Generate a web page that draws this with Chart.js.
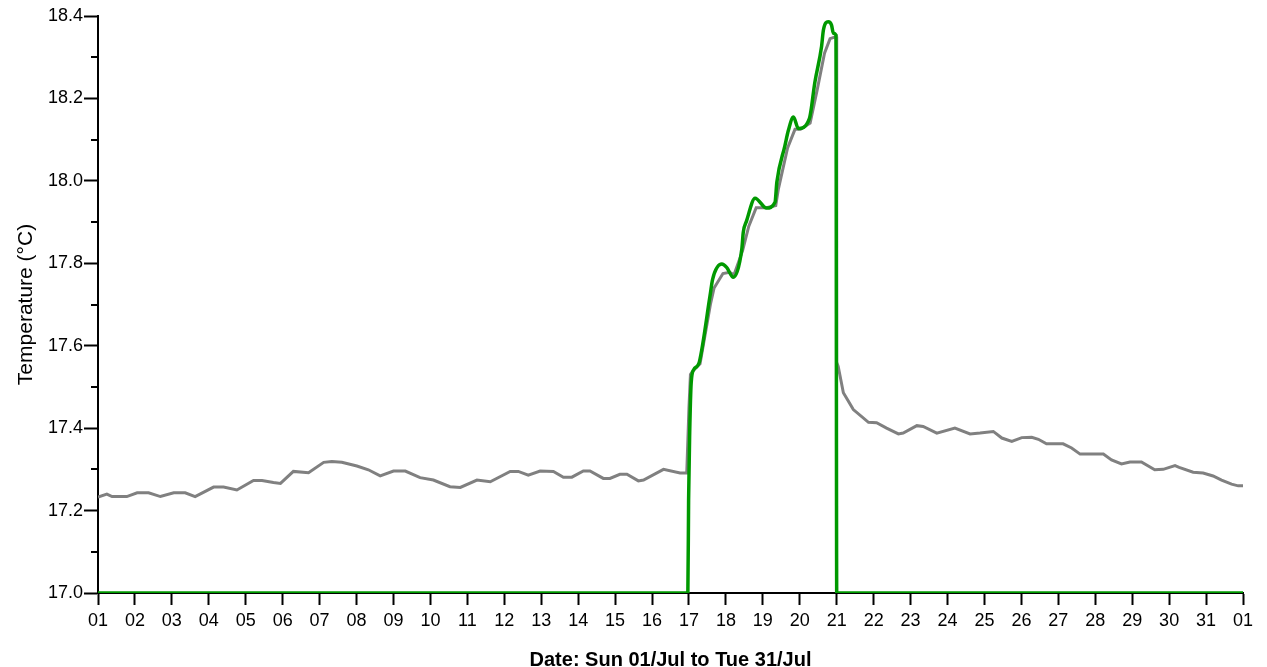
<!DOCTYPE html>
<html>
<head>
<meta charset="utf-8">
<script src="https://cdn.jsdelivr.net/npm/chart.js@4"></script>
<style>
  html, body { margin: 0; padding: 0; background: #fff; }
  #wrap { width: 1267px; height: 667px; }
</style>
</head>
<body>
<div id="wrap"><canvas id="myChart" width="1267" height="667"></canvas></div>
<script>
// Day of month (1 = 01/Jul, 32 = 01/Aug) and temperature readings.
const grayDays = [1.00, 1.24, 1.38, 1.78, 2.06, 2.37, 2.69, 3.05, 3.36, 3.63, 4.13, 4.40, 4.76, 5.21, 5.44, 5.75, 5.94, 6.29, 6.70, 7.11, 7.33, 7.60, 8.01, 8.32, 8.64, 9.00, 9.32, 9.72, 10.08, 10.53, 10.81, 11.26, 11.62, 12.16, 12.38, 12.65, 12.97, 13.33, 13.60, 13.83, 14.14, 14.32, 14.68, 14.86, 15.13, 15.32, 15.63, 15.77, 16.31, 16.76, 16.94, 17.00, 17.04, 17.10, 17.22, 17.30, 17.58, 17.68, 17.92, 18.10, 18.22, 18.45, 18.62, 18.82, 19.10, 19.35, 19.42, 19.67, 19.87, 20.02, 20.28, 20.47, 20.67, 20.82, 20.99, 21.00, 21.04, 21.18, 21.45, 21.86, 22.08, 22.35, 22.67, 22.80, 23.17, 23.34, 23.71, 24.20, 24.61, 24.88, 25.24, 25.47, 25.74, 26.01, 26.28, 26.46, 26.68, 27.13, 27.36, 27.59, 28.22, 28.44, 28.71, 28.94, 29.25, 29.61, 29.84, 30.16, 30.27, 30.65, 30.92, 31.19, 31.42, 31.69, 31.87, 32.00];
const grayTemps = [17.233, 17.240, 17.234, 17.234, 17.243, 17.243, 17.234, 17.243, 17.243, 17.234, 17.257, 17.257, 17.250, 17.273, 17.273, 17.268, 17.266, 17.295, 17.292, 17.317, 17.319, 17.317, 17.308, 17.299, 17.284, 17.296, 17.296, 17.280, 17.274, 17.258, 17.256, 17.274, 17.270, 17.295, 17.295, 17.286, 17.296, 17.295, 17.281, 17.281, 17.296, 17.296, 17.278, 17.278, 17.288, 17.288, 17.272, 17.274, 17.300, 17.291, 17.291, 17.450, 17.530, 17.538, 17.549, 17.556, 17.700, 17.740, 17.775, 17.778, 17.772, 17.830, 17.890, 17.935, 17.935, 17.940, 17.980, 18.080, 18.125, 18.125, 18.140, 18.220, 18.310, 18.345, 18.350, 17.560, 17.550, 17.486, 17.445, 17.414, 17.413, 17.400, 17.386, 17.388, 17.406, 17.404, 17.388, 17.400, 17.386, 17.388, 17.392, 17.376, 17.368, 17.377, 17.378, 17.373, 17.362, 17.362, 17.352, 17.337, 17.337, 17.323, 17.313, 17.318, 17.318, 17.299, 17.300, 17.309, 17.305, 17.293, 17.291, 17.284, 17.274, 17.264, 17.260, 17.260];

const greenDays = [1, 16.97, 16.99, 17.02, 17.06, 17.13, 17.22, 17.28, 17.57, 17.64, 17.89, 18.02, 18.20, 18.43, 18.47, 18.56, 18.79, 19.10, 19.33, 19.38, 19.60, 19.69, 19.83, 19.96, 20.26, 20.41, 20.59, 20.64, 20.77, 20.86, 20.91, 20.98, 21.00, 32];
const greenTemps = [17.0, 17.0, 17.225, 17.39, 17.51, 17.542, 17.55, 17.56, 17.721, 17.761, 17.798, 17.790, 17.766, 17.834, 17.875, 17.903, 17.958, 17.934, 17.948, 17.997, 18.086, 18.122, 18.155, 18.127, 18.151, 18.240, 18.326, 18.366, 18.386, 18.378, 18.358, 18.354, 17.0, 17.0];

const dayLabels = ['01', '02', '03', '04', '05', '06', '07', '08', '09', '10', '11', '12', '13', '14', '15', '16', '17', '18', '19', '20', '21', '22', '23', '24', '25', '26', '27', '28', '29', '30', '31', '01'];

const toPoints = (xs, ys) => xs.map((x, i) => ({ x: x, y: ys[i] }));

// Short ticks between the labelled ones on the temperature axis.
const minorTicks = {
  id: 'minorTicks',
  afterDraw(chart) {
    const y = chart.scales.y;
    const c = chart.ctx;
    c.save();
    c.strokeStyle = '#000';
    c.lineWidth = 2;
    for (let v = 17.1; v < 18.4; v += 0.2) {
      const py = Math.round(y.getPixelForValue(v));
      c.beginPath();
      c.moveTo(y.right - 7, py);
      c.lineTo(y.right, py);
      c.stroke();
    }
    c.restore();
  }
};

Chart.defaults.font.family = 'Arial, "Liberation Sans", sans-serif';
Chart.defaults.color = '#000';

const ctx = document.getElementById('myChart');

new Chart(ctx, {
  type: 'line',
  data: {
    datasets: [{
      label: 'Green',
      data: toPoints(greenDays, greenTemps),
      borderColor: '#009900',
      borderWidth: 3.5,
      pointRadius: 0,
      cubicInterpolationMode: 'monotone'
    }, {
      label: 'Gray',
      data: toPoints(grayDays, grayTemps),
      borderColor: '#808080',
      borderWidth: 3,
      pointRadius: 0,
      tension: 0
    }]
  },
  options: {
    responsive: false,
    animation: false,
    layout: { padding: { left: 0, top: 16, right: 24, bottom: 0 } },
    plugins: {
      legend: { display: false },
      tooltip: { enabled: false }
    },
    scales: {
      x: {
        type: 'linear',
        min: 1,
        max: 32,
        afterFit: s => { s.height = 74; },
        border: { color: '#000', width: 2 },
        grid: { drawOnChartArea: false, tickLength: 12, tickColor: '#000', tickWidth: 2 },
        ticks: {
          stepSize: 1,
          autoSkip: false,
          maxRotation: 0,
          padding: 5,
          font: { size: 18 },
          callback: v => dayLabels[v - 1]
        },
        title: {
          display: true,
          text: 'Date: Sun 01/Jul to Tue 31/Jul',
          font: { size: 20, weight: 'bold', lineHeight: 1 },
          padding: { top: 0, bottom: -3 }
        }
      },
      y: {
        min: 17,
        max: 18.4,
        afterFit: s => { s.width = 98; },
        border: { color: '#000', width: 2 },
        grid: { drawOnChartArea: false, tickLength: 14, tickColor: '#000', tickWidth: 2 },
        ticks: {
          stepSize: 0.2,
          padding: 1,
          font: { size: 18 },
          callback: v => v.toFixed(1)
        },
        title: {
          display: true,
          text: 'Temperature (°C)',
          font: { size: 21 },
          padding: { top: 14, bottom: 0 }
        }
      }
    }
  },
  plugins: [minorTicks]
});
</script>
</body>
</html>
